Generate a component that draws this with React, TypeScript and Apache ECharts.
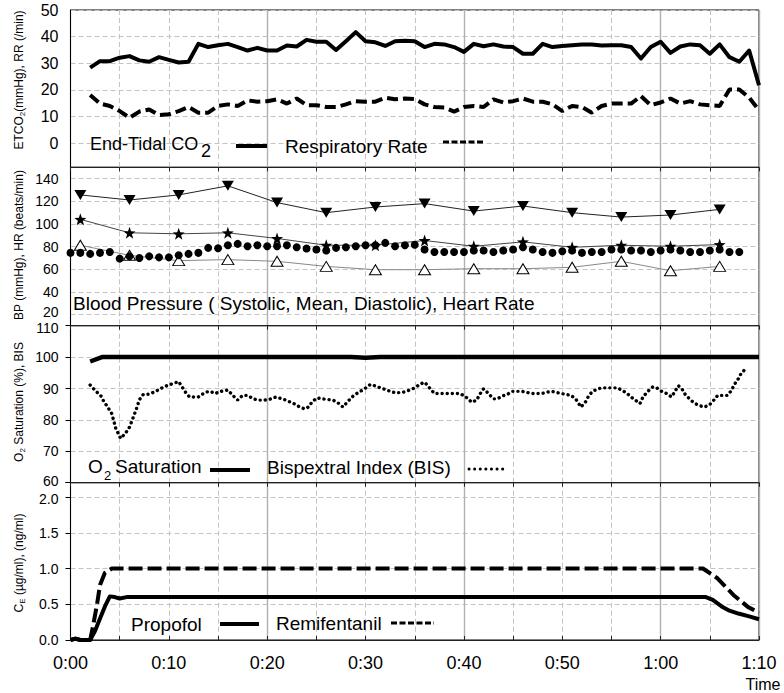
import React, { useEffect, useRef } from 'react';
import * as echarts from 'echarts';

const FONT = '"Liberation Sans", Arial, Helvetica, sans-serif';

// ---------- Data ----------
// Panel 1: End-tidal CO2 and respiratory rate, one reading per minute from 0:02 to 1:10
const co2StartMinute = 2;
const etco2 = [
  28.4, 30.8, 30.8, 32.1, 32.7, 31.1, 30.6, 32.3, 31.3, 30.3,
  30.6, 37.3, 36.1, 36.8, 37.3, 36.1, 34.8, 35.8, 34.8, 34.8,
  36.7, 36.3, 38.8, 38.1, 38.1, 35.0, 38.3, 41.7, 38.3, 37.9,
  36.5, 38.3, 38.5, 38.3, 36.1, 37.3, 37.1, 36.1, 34.3, 37.3,
  36.4, 37.1, 36.3, 36.1, 33.6, 33.6, 37.3, 36.1, 36.5, 36.8,
  37.1, 37.1, 36.7, 36.8, 36.8, 36.1, 31.8, 36.1, 38.1, 33.9,
  36.3, 37.1, 36.8, 33.6, 37.1, 32.3, 30.6, 34.8, 21.8,
];
const respRate = [
  18.1, 14.9, 14.0, 12.1, 9.6, 11.9, 12.7, 10.6, 10.9, 12.1,
  13.6, 11.5, 11.5, 14.0, 14.6, 14.0, 16.1, 15.6, 15.8, 16.5,
  14.9, 16.8, 14.3, 14.3, 13.6, 13.6, 14.6, 15.8, 15.6, 15.6,
  17.1, 16.5, 16.8, 16.6, 14.6, 13.6, 13.4, 11.9, 13.6, 14.0,
  13.6, 16.5, 15.3, 15.8, 16.8, 15.6, 15.6, 14.6, 12.1, 14.0,
  13.6, 11.5, 14.0, 14.9, 14.9, 14.9, 17.7, 14.3, 15.3, 16.8,
  14.9, 15.8, 14.6, 14.3, 14.0, 20.2, 20.2, 17.1, 12.4,
];

// Panel 2: blood pressure every 5 minutes from 0:01, heart rate each minute from 0:00
const bpMinutes = [1, 6, 11, 16, 21, 26, 31, 36, 41, 46, 51, 56, 61, 66];
const systolic = [125.6, 121.1, 125.6, 133.6, 118.8, 109.9, 114.9, 117.9, 111.3, 115.8, 109.9, 106.0, 107.8, 112.8];
const meanBP = [104.0, 92.1, 91.2, 92.1, 87.1, 81.1, 81.1, 85.3, 80.2, 84.1, 79.3, 81.1, 80.2, 81.7];
const diastolic = [81.1, 72.2, 67.5, 68.4, 66.9, 62.4, 59.5, 59.5, 60.4, 60.4, 61.6, 66.9, 58.6, 62.4];
const hrStartMinute = 0;
const heartRate = [
  74.4, 74.4, 73.5, 74.4, 75.2, 69.3, 71.3, 69.9, 71.3, 70.4,
  70.4, 72.2, 73.5, 74.4, 78.8, 78.4, 81.1, 82.3, 80.2, 81.1,
  80.2, 80.2, 81.1, 79.3, 78.2, 77.3, 76.4, 78.8, 79.3, 80.2,
  81.1, 81.1, 83.2, 80.2, 81.1, 81.5, 77.3, 75.2, 75.2, 75.2,
  75.2, 76.4, 76.4, 75.2, 76.4, 77.3, 79.3, 77.3, 75.2, 74.4,
  75.8, 76.4, 74.4, 75.2, 75.2, 77.3, 77.3, 76.4, 76.4, 75.2,
  76.4, 77.3, 76.4, 75.2, 75.2, 76.4, 77.3, 75.2, 75.2,
];

// Panel 3: O2 saturation and BIS
const spo2Minutes = [2, 3.2, 28.5, 30, 31.5, 70];
const spo2 = [98.6, 100, 100, 99.8, 100, 100];
const bisMinutes = [
  2, 2.5, 3.1, 3.4, 3.8, 4.2, 4.6, 5.1, 5.6, 6.0, 6.4, 6.7, 7.0, 7.4, 8.0, 8.6, 9.3, 9.8, 11.0, 11.3,
  11.7, 12.1, 13.0, 13.7, 14.2, 14.7, 15.3, 16.0, 16.5, 17.0, 17.5, 18.0, 18.6, 19.1, 19.7, 20.2, 20.9, 21.5, 21.9, 22.4,
  22.9, 23.3, 23.8, 24.2, 24.6, 25.1, 25.6, 26.1, 26.7, 27.2, 27.7, 28.2, 28.8, 29.3, 29.8, 30.5, 31.0, 31.5, 32.0, 32.5,
  33.1, 33.8, 34.4, 35.0, 35.5, 36.0, 36.5, 37.0, 39.6, 40.2, 40.8, 41.3, 41.6, 42.0, 42.5, 43.0, 43.4, 43.9, 44.4, 44.9,
  45.9, 46.9, 47.9, 48.4, 48.9, 49.9, 50.4, 50.9, 51.4, 51.9, 52.4, 52.7, 53.1, 53.6, 54.1, 55.6, 56.1, 56.6, 57.1, 57.6,
  57.9, 58.2, 58.7, 59.2, 59.6, 60.1, 60.6, 61.1, 61.4, 61.8, 62.2, 62.5, 63.0, 63.4, 63.9, 64.4, 64.9, 65.3, 65.8, 66.8,
  67.2, 67.5, 67.9, 68.2, 68.8,
];
const bis = [
  91.1, 89.4, 87.6, 85.8, 84.0, 82.0, 77.3, 74.1, 75.8, 77.7, 81.0, 83.5, 86.4, 88.1, 88.2, 89.0, 90.2, 90.9, 92.2, 90.7,
  88.8, 87.3, 87.3, 88.8, 89.1, 88.4, 89.1, 89.5, 87.8, 86.3, 87.8, 87.8, 86.7, 86.3, 86.3, 86.5, 87.3, 86.7, 86.3, 85.6,
  84.9, 84.1, 83.5, 84.1, 85.9, 87.0, 86.7, 86.5, 86.3, 85.4, 84.1, 85.9, 87.8, 88.8, 89.7, 91.3, 90.8, 90.2, 89.7, 89.1,
  88.6, 88.8, 89.4, 90.2, 91.3, 92.0, 90.2, 88.4, 88.4, 87.3, 85.6, 86.3, 88.1, 89.9, 88.4, 86.7, 86.7, 87.6, 88.1, 89.1,
  89.1, 88.4, 88.4, 88.8, 89.1, 88.4, 88.1, 87.8, 86.5, 84.1, 85.9, 87.8, 89.1, 89.9, 90.2, 90.2, 89.4, 88.4, 87.0, 85.9,
  85.2, 87.3, 89.1, 90.5, 90.2, 89.1, 88.4, 87.3, 88.8, 90.9, 89.7, 88.1, 86.5, 85.4, 84.6, 84.1, 84.6, 85.9, 87.8, 87.8,
  89.4, 91.3, 93.1, 94.9, 96.7,
];

// Panel 4: effect-site concentrations
const propofolMinutes = [0, 0.5, 1, 2, 2.5, 3, 3.5, 4, 4.5, 5, 5.7, 64.6, 65.3, 66.2, 67, 67.9, 69, 70];
const propofol = [0, 0.02, 0, 0, 0.13, 0.3, 0.47, 0.61, 0.6, 0.58, 0.6, 0.6, 0.56, 0.47, 0.41, 0.37, 0.33, 0.29];
const remiMinutes = [0, 0.5, 1, 2, 2.3, 2.7, 3.0, 3.5, 4.2, 64.3, 65.8, 67.4, 68.9, 70];
const remifentanil = [0, 0.02, 0, 0, 0.2, 0.5, 0.77, 0.94, 1.0, 1.0, 0.86, 0.63, 0.46, 0.38];

// Tick labels
const timeLabels = ['0:00', '0:10', '0:20', '0:30', '0:40', '0:50', '1:00', '1:10'];
const co2Ticks = [0, 10, 20, 30, 40, 50];
const bpTicks = [20, 40, 60, 80, 100, 120, 140];
const satTicks = [60, 70, 80, 90, 100, 110];
const ceTicks = [0, 0.5, 1.0, 1.5, 2.0];

// ---------- helpers ----------
const zip = (xs: number[], ys: number[]) => xs.map((x, i) => [x, ys[i]]);
const fromStart = (start: number, ys: number[]) => ys.map((y, i) => [start + i, y]);

const STAR = 'path://M0,-10 L2.35,-3.24 L9.51,-3.09 L3.8,1.24 L5.88,8.09 L0,4 L-5.88,8.09 L-3.8,1.24 L-9.51,-3.09 L-2.35,-3.24 Z';

const GRID_LEFT = 70.5;
const GRID_RIGHT = 759;
const GRID_GRAY = '#c4c4c4';
const NONE = 'rgba(0,0,0,0)';

// Each panel: axis step (min is a multiple of it) and which split lines are visible (cycled by index)
// nudgeUp / nudgeDown: labels at a panel seam, shifted slightly away from the neighbouring panel's label
const panels = [
  {
    top: 10, height: 157.3, min: -9, max: 50, interval: 1, ticks: co2Ticks, showTicks: false, fontSize: 16,
    splitColors: [NONE, NONE, NONE, NONE, NONE, NONE, NONE, NONE, NONE, GRID_GRAY],
    fmt: (v: number) => String(v), nudgeUp: null as number | null, nudgeDown: null as number | null,
  },
  {
    top: 167.3, height: 158.4, min: 10, max: 150, interval: 10, ticks: bpTicks, showTicks: false, fontSize: 14,
    splitColors: [NONE, GRID_GRAY],
    fmt: (v: number) => String(v), nudgeUp: 20, nudgeDown: null,
  },
  {
    top: 325.7, height: 157, min: 60, max: 110, interval: 10, ticks: satTicks, showTicks: true, fontSize: 14,
    splitColors: [GRID_GRAY],
    fmt: (v: number) => String(v), nudgeUp: 60, nudgeDown: 110,
  },
  {
    top: 482.7, height: 157.3, min: 0, max: 2.2, interval: 0.5, ticks: ceTicks, showTicks: true, fontSize: 14,
    splitColors: [GRID_GRAY],
    fmt: (v: number) => v.toFixed(1), nudgeUp: null, nudgeDown: 2,
  },
];

const dash = [5, 3];

function buildOption() {
  const grid = panels.map((p) => ({
    left: GRID_LEFT,
    width: GRID_RIGHT - GRID_LEFT,
    top: p.top,
    height: p.height,
    show: true,
    borderColor: '#000',
    borderWidth: 1,
    backgroundColor: 'transparent',
  }));

  const xAxis: any[] = [];
  panels.forEach((_, i) => {
    xAxis.push({
      type: 'value',
      gridIndex: i,
      min: 0,
      max: 70,
      interval: 5,
      axisLine: { show: true, onZero: false, lineStyle: { color: '#222', width: 1 } },
      axisTick: { show: true, inside: i === 3, length: 4, lineStyle: { color: '#222' } },
      axisLabel: {
        show: i === 3,
        formatter: (v: number) => (v % 10 === 0 ? timeLabels[v / 10] : ''),
        fontSize: 18,
        color: '#000',
        fontFamily: FONT,
        margin: 14,
      },
      splitLine: { show: true, lineStyle: { color: GRID_GRAY, width: 1, type: dash } },
    });
  });
  // Solid gridlines every 20 minutes
  panels.forEach((_, i) => {
    xAxis.push({
      type: 'value',
      gridIndex: i,
      min: 0,
      max: 70,
      interval: 20,
      position: 'bottom',
      axisLine: { show: false },
      axisTick: { show: false },
      axisLabel: { show: false },
      splitLine: { show: true, lineStyle: { color: '#b0b0b0', width: 1.4, type: 'solid' } },
    });
  });

  const yAxis = panels.map((p, i) => {
    const tokenBase = { fontSize: p.fontSize, fontFamily: FONT, color: '#000', lineHeight: p.fontSize };
    return {
      type: 'value',
      gridIndex: i,
      min: p.min,
      max: p.max,
      interval: p.interval,
      axisLine: { show: true, onZero: false, lineStyle: { color: '#000' } },
      axisTick: { show: p.showTicks, length: 5, lineStyle: { color: '#000' } },
      axisLabel: {
        formatter: (v: number) => {
          if (!p.ticks.some((t) => Math.abs(t - v) < 1e-6)) return '';
          if (p.nudgeUp !== null && Math.abs(v - p.nudgeUp) < 1e-6) return `{up|${p.fmt(v)}}`;
          if (p.nudgeDown !== null && Math.abs(v - p.nudgeDown) < 1e-6) return `{dn|${p.fmt(v)}}`;
          return p.fmt(v);
        },
        fontSize: p.fontSize,
        lineHeight: p.fontSize,
        color: '#000',
        fontFamily: FONT,
        margin: 12,
        rich: {
          up: { ...tokenBase, padding: [0, 0, 4, 0] },
          dn: { ...tokenBase, padding: [4, 0, 0, 0] },
        },
      },
      splitLine: { show: true, lineStyle: { color: p.splitColors, width: 1, type: dash } },
    };
  });

  const base = { type: 'line', symbol: 'none', silent: true, z: 3 };
  const series: any[] = [
    // Panel 1
    { ...base, xAxisIndex: 0, yAxisIndex: 0, data: fromStart(co2StartMinute, etco2), lineStyle: { color: '#000', width: 4, join: 'round' } },
    { ...base, xAxisIndex: 0, yAxisIndex: 0, data: fromStart(co2StartMinute, respRate), lineStyle: { color: '#000', width: 4, type: [11, 5] } },
    // Panel 2
    {
      type: 'line', silent: true, z: 3, xAxisIndex: 1, yAxisIndex: 1, data: zip(bpMinutes, systolic),
      symbol: 'triangle', symbolRotate: 180, symbolSize: [12, 10], showSymbol: true, showAllSymbol: true,
      itemStyle: { color: '#000', opacity: 1 }, lineStyle: { color: '#222', width: 1 },
    },
    {
      type: 'line', silent: true, z: 3, xAxisIndex: 1, yAxisIndex: 1, data: zip(bpMinutes, meanBP),
      symbol: STAR, symbolSize: 12, showSymbol: true, showAllSymbol: true,
      itemStyle: { color: '#000', opacity: 1 }, lineStyle: { color: '#444', width: 1 },
    },
    {
      type: 'line', silent: true, z: 3, xAxisIndex: 1, yAxisIndex: 1, data: zip(bpMinutes, diastolic),
      symbol: 'triangle', symbolSize: [12, 10], showSymbol: true, showAllSymbol: true,
      itemStyle: { color: '#fff', borderColor: '#000', borderWidth: 1, opacity: 1 }, lineStyle: { color: '#888', width: 1 },
    },
    {
      type: 'scatter', silent: true, z: 4, xAxisIndex: 1, yAxisIndex: 1, data: fromStart(hrStartMinute, heartRate),
      symbol: 'circle', symbolSize: 8, itemStyle: { color: '#000', opacity: 1 },
    },
    // Panel 3
    { ...base, xAxisIndex: 2, yAxisIndex: 2, data: zip(spo2Minutes, spo2), lineStyle: { color: '#000', width: 4.5 } },
    { ...base, xAxisIndex: 2, yAxisIndex: 2, data: zip(bisMinutes, bis), lineStyle: { color: '#000', width: 3.4, type: [0.1, 5], cap: 'round' } },
    // Panel 4
    { ...base, xAxisIndex: 3, yAxisIndex: 3, data: zip(propofolMinutes, propofol), lineStyle: { color: '#000', width: 4, join: 'round' } },
    { ...base, xAxisIndex: 3, yAxisIndex: 3, data: zip(remiMinutes, remifentanil), lineStyle: { color: '#000', width: 4, type: [14, 5] } },
  ];

  const txt = (x: number, y: number, text: string, size = 19, extra: any = {}) => ({
    type: 'text', x, y, silent: true, z: 10,
    style: { text, fontSize: size, fontFamily: FONT, fill: '#000', align: 'left', verticalAlign: 'middle', ...extra },
  });
  const seg = (x1: number, x2: number, y: number, width: number, lineDash?: number[], cap = 'butt') => ({
    type: 'line', silent: true, z: 10,
    shape: { x1, y1: y, x2, y2: y },
    style: { stroke: '#000', lineWidth: width, lineDash, lineCap: cap },
  });
  const nameRich = {
    a: { fontSize: 12, fontFamily: FONT, fill: '#000', lineHeight: 14, verticalAlign: 'middle' },
    s: { fontSize: 8, fontFamily: FONT, fill: '#000', lineHeight: 6, verticalAlign: 'bottom' },
  };
  const yName = (y: number, text: string) => ({
    type: 'text', x: 19, y, rotation: Math.PI / 2, silent: true, z: 10,
    style: { text, align: 'center', verticalAlign: 'middle', rich: nameRich },
  });

  const graphic = [
    yName(80, '{a|ETCO}{s|2}{a|(mmHg), RR (/min)}'),
    yName(245, '{a|BP (mmHg), HR (beats/min)}'),
    yName(402, '{a|O}{s|2}{a| Saturation (%), BIS}'),
    yName(563, '{a|C}{s|E}{a| (µg/ml), (ng/ml)}'),
    // Panel 1 legend
    txt(90, 144, 'End-Tidal CO', 18),
    txt(201, 150.5, '2', 18),
    seg(236, 267, 146, 4),
    txt(285, 146, 'Respiratory Rate'),
    seg(443, 483, 142, 3, [6, 2.5]),
    // Panel 2 legend
    txt(73, 303.5, 'Blood Pressure ( Systolic, Mean, Diastolic), Heart Rate'),
    // Panel 3 legend
    txt(88, 466.5, 'O'),
    txt(104, 475, '2', 13),
    txt(115, 466.5, 'Saturation'),
    seg(210, 250, 470, 4),
    txt(267, 467, 'Bispextral Index (BIS)'),
    seg(469, 507, 469, 3, [0.1, 5.5], 'round'),
    // Panel 4 legend
    txt(131, 624, 'Propofol'),
    seg(220, 259, 624, 4),
    txt(276, 623.5, 'Remifentanil'),
    seg(391, 434, 623, 3, [6, 2.5]),
    // Axis title
    txt(763, 684, 'Time', 16, { align: 'center' }),
  ];

  return {
    animation: false,
    backgroundColor: '#fff',
    grid,
    xAxis,
    yAxis,
    series,
    graphic,
  };
}

export default function App() {
  const ref = useRef<HTMLDivElement>(null);
  useEffect(() => {
    if (!ref.current) return;
    const chart = echarts.init(ref.current, undefined, { renderer: 'svg' });
    chart.setOption(buildOption() as any);
    return () => chart.dispose();
  }, []);
  return (
    <div
      ref={ref}
      style={{ position: 'absolute', left: 0, top: 0, width: 784, height: 693, background: '#fff' }}
    />
  );
}
